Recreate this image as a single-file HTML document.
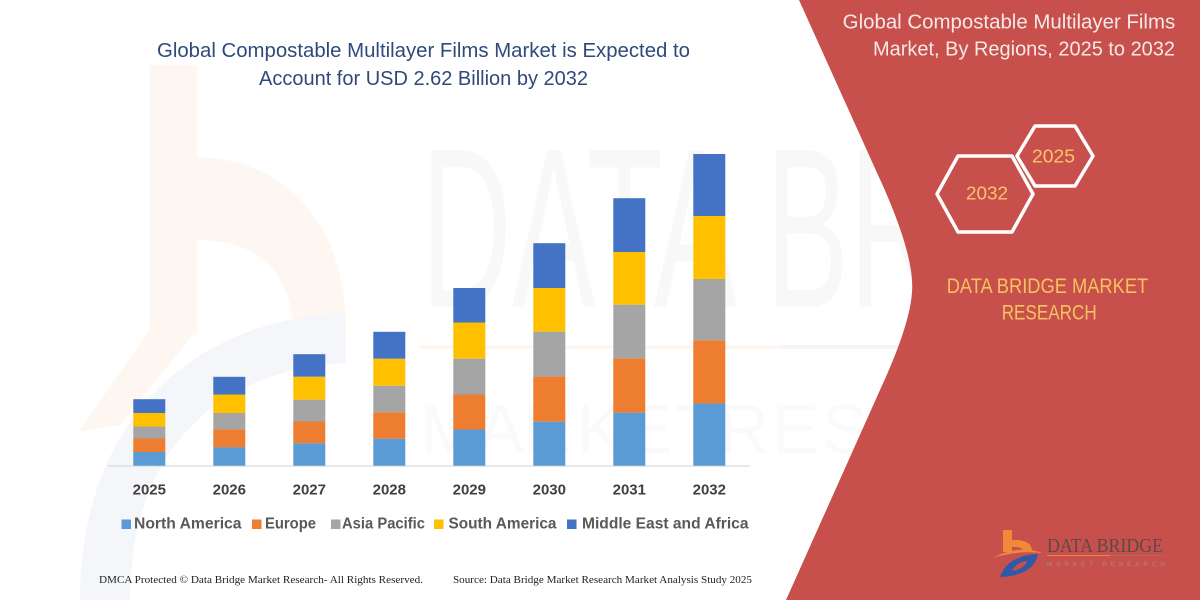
<!DOCTYPE html>
<html>
<head>
<meta charset="utf-8">
<style>
html,body{margin:0;padding:0;background:#fff;}
svg{display:block;}
</style>
</head>
<body>
<svg width="1200" height="600" viewBox="0 0 1200 600" xmlns="http://www.w3.org/2000/svg">
  <rect x="0" y="0" width="1200" height="600" fill="#ffffff"/>

  <!-- faint watermark: orange b -->
  <g fill="#fef7f1">
    <rect x="150" y="65" width="47" height="270"/>
    <path d="M197,157 C300,160 348,240 346,335 L293,335 C293,275 262,240 197,240 Z"/>
    <path d="M150,330 L197,330 L120,425 L78,432 Z"/>
  </g>
  <!-- faint watermark: blue arc -->
  <path d="M345,338 C200,345 105,440 105,600" fill="none" stroke="#f4f6fa" stroke-width="50"/>

  <!-- faint watermark line -->
  <line x1="420" y1="347" x2="780" y2="347" stroke="#fef6ef" stroke-width="4"/>
  <line x1="780" y1="347" x2="900" y2="347" stroke="#f3f5fa" stroke-width="4"/>

  <!-- faint watermark text DATA BRIDGE -->
  <text x="421" y="307" font-family="Liberation Sans, sans-serif" font-size="228" fill="#000" fill-opacity="0.028" textLength="826" lengthAdjust="spacingAndGlyphs">DATA BRIDGE</text>
  <text x="420" y="453" font-family="Liberation Sans, sans-serif" font-size="70" fill="#000" fill-opacity="0.018" textLength="700" lengthAdjust="spacing">M A R K E T  R E S E A R C H</text>

  <!-- red panel -->
  <path d="M799,0 L878,175 Q915,255 912,292 Q910,325 880,390 L786,600 L1200,600 L1200,0 Z" fill="#c8504c"/>

  <!-- left title -->
  <g font-family="Liberation Sans, sans-serif" font-size="20" fill="#2f4a7a" text-anchor="middle">
    <text x="423.5" y="57" textLength="533" lengthAdjust="spacingAndGlyphs">Global Compostable Multilayer Films Market is Expected to</text>
    <text x="423.5" y="85" textLength="329" lengthAdjust="spacingAndGlyphs">Account for USD 2.62 Billion by 2032</text>
  </g>

  <!-- axis -->
  <line x1="108" y1="466" x2="750" y2="466" stroke="#d9d9d9" stroke-width="1.2"/>

  <!-- bars -->
  <g>
    <rect x="133.3" y="399.2" width="32" height="13.8" fill="#4472c4"/>
    <rect x="133.3" y="413" width="32" height="13.5" fill="#ffc000"/>
    <rect x="133.3" y="426.5" width="32" height="12" fill="#a5a5a5"/>
    <rect x="133.3" y="438.5" width="32" height="13.5" fill="#ed7d31"/>
    <rect x="133.3" y="452" width="32" height="13.7" fill="#5b9bd5"/>

    <rect x="213.3" y="376.8" width="32" height="17.7" fill="#4472c4"/>
    <rect x="213.3" y="394.5" width="32" height="18.5" fill="#ffc000"/>
    <rect x="213.3" y="413" width="32" height="16.4" fill="#a5a5a5"/>
    <rect x="213.3" y="429.4" width="32" height="18" fill="#ed7d31"/>
    <rect x="213.3" y="447.4" width="32" height="18.3" fill="#5b9bd5"/>

    <rect x="293.3" y="354.2" width="32" height="22.6" fill="#4472c4"/>
    <rect x="293.3" y="376.8" width="32" height="23" fill="#ffc000"/>
    <rect x="293.3" y="399.8" width="32" height="21.7" fill="#a5a5a5"/>
    <rect x="293.3" y="421.5" width="32" height="21.8" fill="#ed7d31"/>
    <rect x="293.3" y="443.3" width="32" height="22.4" fill="#5b9bd5"/>

    <rect x="373.3" y="331.8" width="32" height="27" fill="#4472c4"/>
    <rect x="373.3" y="358.8" width="32" height="27" fill="#ffc000"/>
    <rect x="373.3" y="385.8" width="32" height="26.5" fill="#a5a5a5"/>
    <rect x="373.3" y="412.3" width="32" height="26.5" fill="#ed7d31"/>
    <rect x="373.3" y="438.8" width="32" height="26.9" fill="#5b9bd5"/>

    <rect x="453.3" y="288" width="32" height="34.5" fill="#4472c4"/>
    <rect x="453.3" y="322.5" width="32" height="36.2" fill="#ffc000"/>
    <rect x="453.3" y="358.7" width="32" height="35.8" fill="#a5a5a5"/>
    <rect x="453.3" y="394.5" width="32" height="35" fill="#ed7d31"/>
    <rect x="453.3" y="429.5" width="32" height="36.2" fill="#5b9bd5"/>

    <rect x="533.3" y="243.2" width="32" height="44.8" fill="#4472c4"/>
    <rect x="533.3" y="288" width="32" height="43.7" fill="#ffc000"/>
    <rect x="533.3" y="331.7" width="32" height="44.7" fill="#a5a5a5"/>
    <rect x="533.3" y="376.4" width="32" height="45.3" fill="#ed7d31"/>
    <rect x="533.3" y="421.7" width="32" height="44" fill="#5b9bd5"/>

    <rect x="613.3" y="198.2" width="32" height="53.8" fill="#4472c4"/>
    <rect x="613.3" y="252" width="32" height="52.7" fill="#ffc000"/>
    <rect x="613.3" y="304.7" width="32" height="53.6" fill="#a5a5a5"/>
    <rect x="613.3" y="358.3" width="32" height="54.4" fill="#ed7d31"/>
    <rect x="613.3" y="412.7" width="32" height="53" fill="#5b9bd5"/>

    <rect x="693.3" y="154" width="32" height="62" fill="#4472c4"/>
    <rect x="693.3" y="216" width="32" height="63" fill="#ffc000"/>
    <rect x="693.3" y="279" width="32" height="61.3" fill="#a5a5a5"/>
    <rect x="693.3" y="340.3" width="32" height="63.2" fill="#ed7d31"/>
    <rect x="693.3" y="403.5" width="32" height="62.2" fill="#5b9bd5"/>
  </g>

  <!-- year labels -->
  <g font-family="Liberation Sans, sans-serif" font-size="15" font-weight="bold" fill="#404040" text-anchor="middle">
    <text x="149.3" y="494.5">2025</text>
    <text x="229.3" y="494.5">2026</text>
    <text x="309.3" y="494.5">2027</text>
    <text x="389.3" y="494.5">2028</text>
    <text x="469.3" y="494.5">2029</text>
    <text x="549.3" y="494.5">2030</text>
    <text x="629.3" y="494.5">2031</text>
    <text x="709.3" y="494.5">2032</text>
  </g>

  <!-- legend -->
  <rect x="121.5" y="519.5" width="9.5" height="9.5" fill="#5b9bd5"/>
  <rect x="252" y="519.5" width="9.5" height="9.5" fill="#ed7d31"/>
  <rect x="331" y="519.5" width="9.5" height="9.5" fill="#a5a5a5"/>
  <rect x="434" y="519.5" width="9.5" height="9.5" fill="#ffc000"/>
  <rect x="567" y="519.5" width="9.5" height="9.5" fill="#4472c4"/>
  <g font-family="Liberation Sans, sans-serif" font-size="16" font-weight="bold" fill="#595959">
    <text x="134" y="528.5" textLength="107.5" lengthAdjust="spacingAndGlyphs">North America</text>
    <text x="265" y="528.5" textLength="51" lengthAdjust="spacingAndGlyphs">Europe</text>
    <text x="342" y="528.5" textLength="83" lengthAdjust="spacingAndGlyphs">Asia Pacific</text>
    <text x="448.5" y="528.5" textLength="108" lengthAdjust="spacingAndGlyphs">South America</text>
    <text x="582" y="528.5" textLength="166.5" lengthAdjust="spacingAndGlyphs">Middle East and Africa</text>
  </g>

  <!-- footer -->
  <g font-family="Liberation Serif, serif" font-size="11" fill="#222">
    <text x="99" y="583" textLength="324" lengthAdjust="spacingAndGlyphs">DMCA Protected © Data Bridge Market Research-  All Rights Reserved.</text>
    <text x="453" y="583" textLength="299" lengthAdjust="spacingAndGlyphs">Source: Data Bridge Market Research  Market Analysis Study 2025</text>
  </g>

  <!-- right title -->
  <g font-family="Liberation Sans, sans-serif" font-size="20" fill="#f5e9e7">
    <text x="842.7" y="28.5" textLength="332.5" lengthAdjust="spacingAndGlyphs">Global Compostable Multilayer Films</text>
    <text x="873" y="55.5" textLength="302" lengthAdjust="spacingAndGlyphs">Market, By Regions, 2025 to 2032</text>
  </g>

  <!-- hexagons -->
  <g fill="none" stroke="#ffffff" stroke-width="3.5" stroke-linejoin="round">
    <polygon points="937,194 958,156 1012,156 1033,194 1012,232 958,232"/>
    <polygon points="1017,156 1035,126 1075,126 1093,156 1075,186 1035,186"/>
  </g>
  <g font-family="Liberation Sans, sans-serif" font-size="18.5" fill="#f9c468">
    <text x="966" y="199.5" textLength="42" lengthAdjust="spacingAndGlyphs">2032</text>
    <text x="1032" y="162.5" textLength="43" lengthAdjust="spacingAndGlyphs">2025</text>
  </g>

  <!-- DATA BRIDGE MARKET RESEARCH -->
  <g font-family="Liberation Sans, sans-serif" font-size="21" fill="#f6c15e">
    <text x="946.7" y="293" textLength="201.5" lengthAdjust="spacingAndGlyphs">DATA BRIDGE MARKET</text>
    <text x="1001.7" y="319.5" textLength="95" lengthAdjust="spacingAndGlyphs">RESEARCH</text>
  </g>

  <!-- logo -->
  <g>
    <rect x="1003" y="530" width="9" height="22" fill="#f08a3a"/>
    <path d="M1003,541 C1020,538 1032,541 1032,551 L1023,551 C1023,547 1015,546 1003,548 Z" fill="#f08a3a"/>
    <path d="M993,558 C1010,548 1030,548 1042,553 C1025,551 1008,553 993,558 Z" fill="#f08a3a"/>
    <path d="M1000,577 C1004,565 1015,555 1038,554 C1036,566 1025,576 1000,577 Z" fill="#2e5aa8"/>
    <path d="M1012,571 C1015,565 1021,561 1027,561 C1025,567 1019,570 1012,571 Z" fill="#c8504c"/>
    <text x="1047" y="552" font-family="Liberation Serif, serif" font-size="20" fill="#5d4848" textLength="116" lengthAdjust="spacingAndGlyphs">DATA BRIDGE</text>
    <line x1="1047" y1="555.5" x2="1110" y2="555.5" stroke="#e8874a" stroke-width="1"/>
    <line x1="1110" y1="555.5" x2="1165" y2="555.5" stroke="#a86a66" stroke-width="1"/>
    <text x="1047" y="566" font-family="Liberation Sans, sans-serif" font-size="6.5" fill="#a98887" textLength="118" lengthAdjust="spacing">MARKET RESEARCH</text>
  </g>
</svg>
</body>
</html>
